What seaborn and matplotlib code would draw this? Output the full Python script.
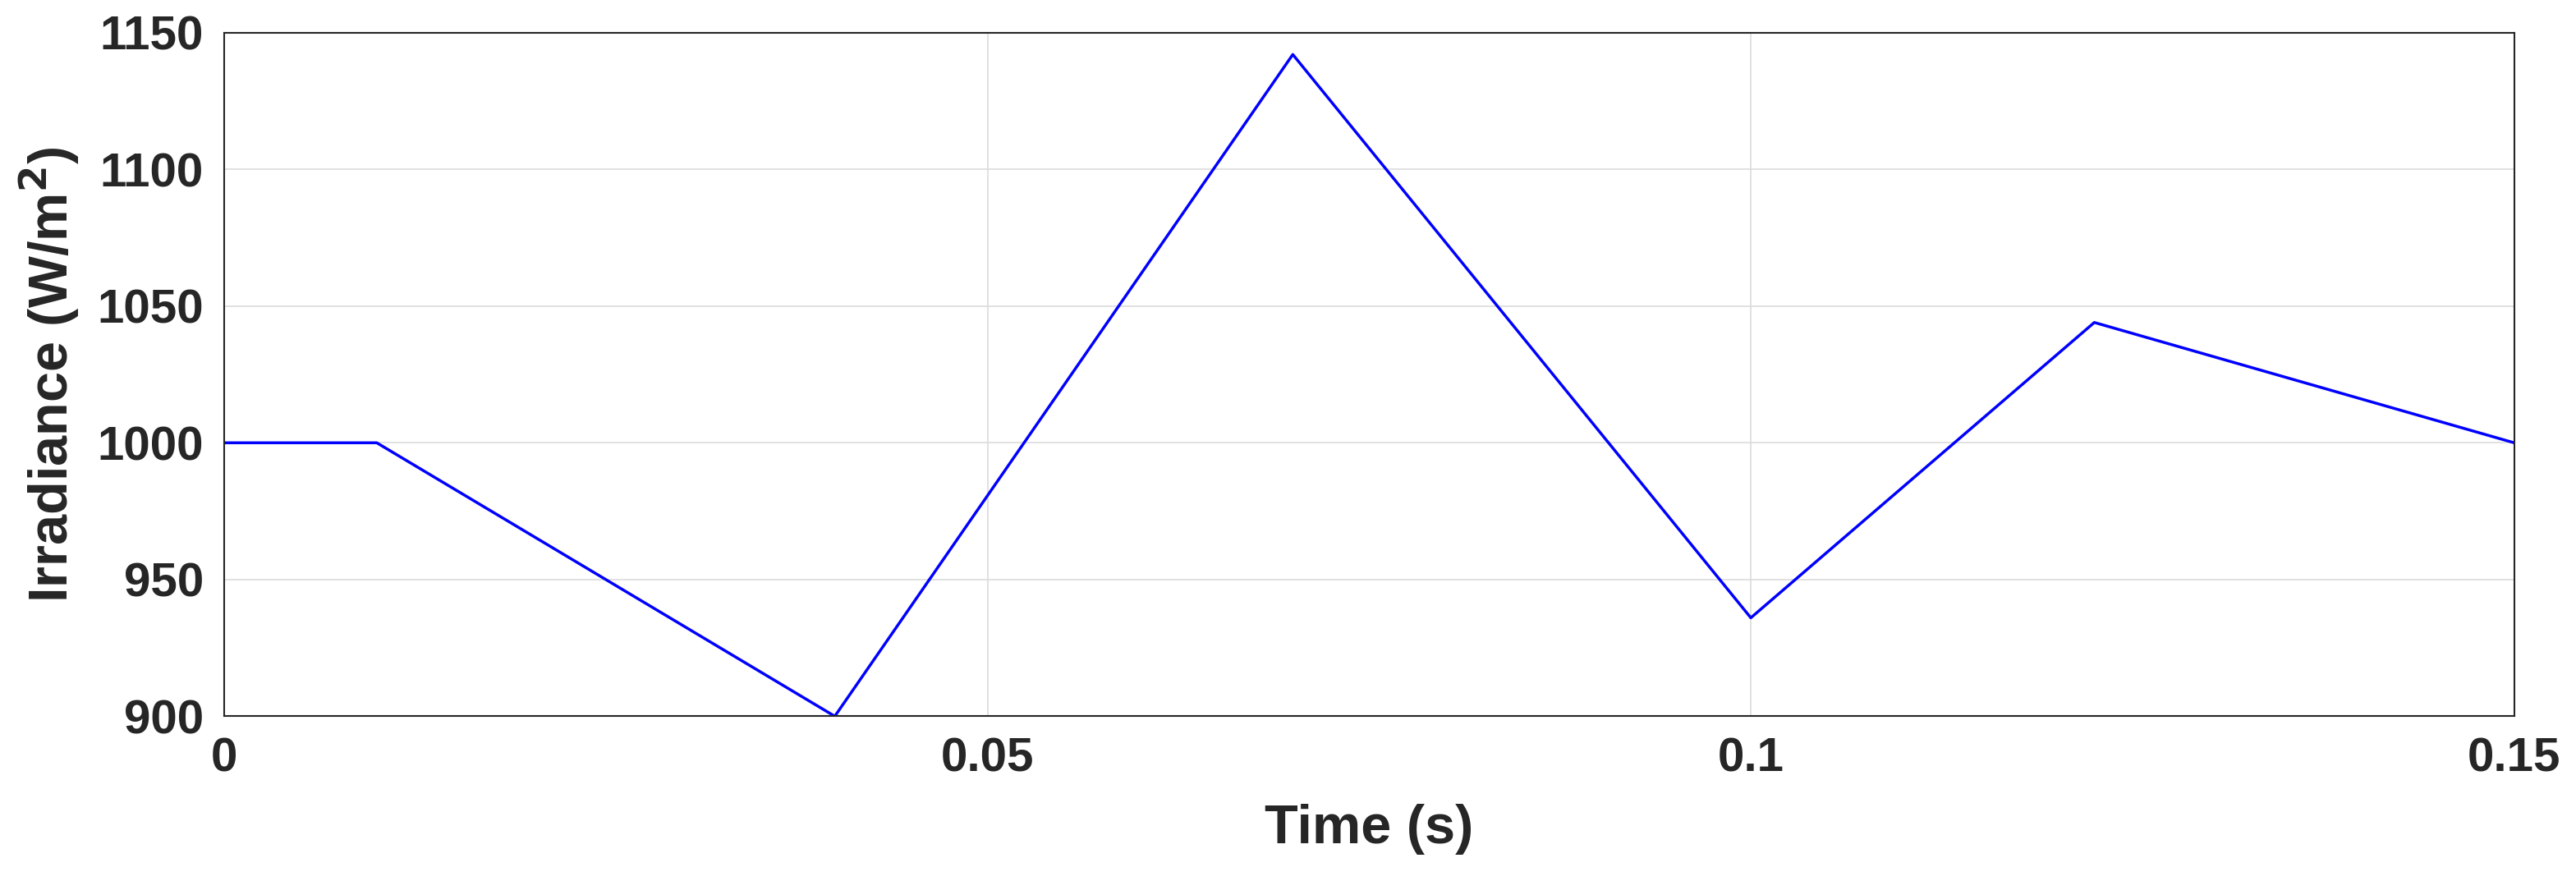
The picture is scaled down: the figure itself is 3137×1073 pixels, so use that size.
import matplotlib
matplotlib.use("Agg")
import matplotlib.pyplot as plt
import seaborn as sns
import pandas as pd

# irradiance profile
time_s = [0, 0.01, 0.04, 0.07, 0.1, 0.1225, 0.15]
irradiance = [1000, 1000, 900, 1142, 936, 1044, 1000]

x_ticks = [0, 0.05, 0.1, 0.15]
x_labels = ["0", "0.05", "0.1", "0.15"]
y_ticks = [900, 950, 1000, 1050, 1100, 1150]

df = pd.DataFrame({"t": time_s, "g": irradiance})

sns.set_style("whitegrid")
plt.rcParams["font.family"] = ["Liberation Sans", "DejaVu Sans"]
plt.rcParams["font.weight"] = "bold"

fig = plt.figure(figsize=(31.37, 10.73), dpi=100)
ax = fig.add_axes([0.087, 0.187, 0.889, 0.776])
sns.lineplot(data=df, x="t", y="g", color="#0000ff", linewidth=2.5, ax=ax)

ax.set_xlim(0, 0.15)
ax.set_ylim(900, 1150)
ax.set_xticks(x_ticks)
ax.set_xticklabels(x_labels)
ax.set_yticks(y_ticks)
ax.tick_params(labelsize=42, length=10, direction="in", width=1.5, pad=18)
for lab in ax.get_xticklabels() + ax.get_yticklabels():
    lab.set_fontweight("bold")
    lab.set_color("#262626")
ax.grid(True, color="#dcdcdc", linewidth=1.2)
for s in ax.spines.values():
    s.set_color("#262626")
    s.set_linewidth(1.5)
ax.set_xlabel("Time (s)", fontsize=48, fontweight="bold", color="#262626", labelpad=20)
ax.set_ylabel("Irradiance (W/m$^\\mathbf{2}$)", fontsize=48, fontweight="bold", color="#262626", labelpad=14)

fig.savefig("out.png", dpi=100)
